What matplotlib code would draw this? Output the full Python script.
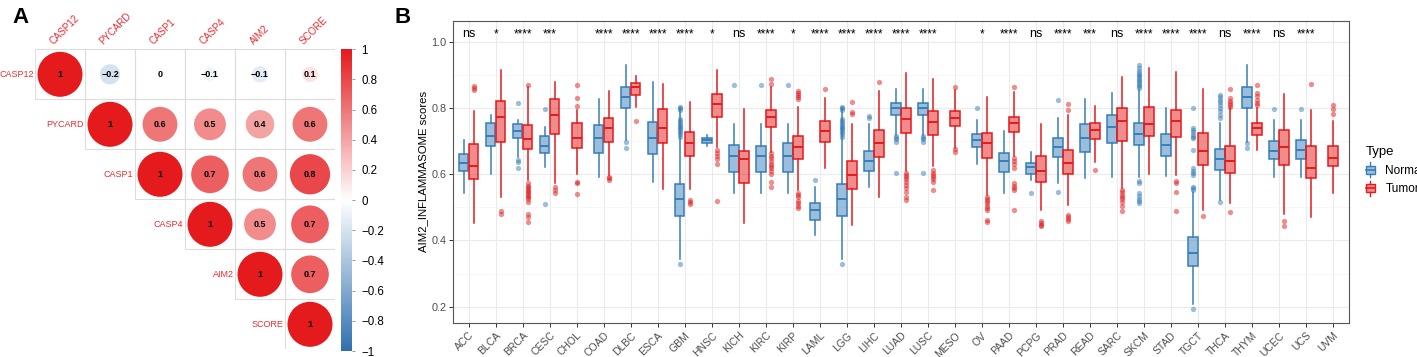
import numpy as np
import matplotlib
matplotlib.use("Agg")
import matplotlib.pyplot as plt
from matplotlib.colors import LinearSegmentedColormap, Normalize
from matplotlib.patches import Circle, Rectangle
from matplotlib.lines import Line2D
from matplotlib.legend_handler import HandlerBase
from matplotlib.cm import ScalarMappable
from matplotlib.transforms import ScaledTranslation

plt.rcParams['font.family'] = ['Liberation Sans', 'DejaVu Sans']

## panel A data
genes = ['CASP12', 'PYCARD', 'CASP1', 'CASP4', 'AIM2', 'SCORE']
corr = np.array([
    [1, -0.2, 0.0, -0.08, -0.13, 0.12],
    [-0.2, 1, 0.6, 0.5, 0.4, 0.6],
    [0.0, 0.6, 1, 0.7, 0.6, 0.8],
    [-0.08, 0.5, 0.7, 1, 0.5, 0.7],
    [-0.13, 0.4, 0.6, 0.5, 1, 0.7],
    [0.12, 0.6, 0.8, 0.7, 0.7, 1],
])

## panel B data
cats = ['ACC', 'BLCA', 'BRCA', 'CESC', 'CHOL', 'COAD', 'DLBC', 'ESCA', 'GBM', 'HNSC', 'KICH',
        'KIRC', 'KIRP', 'LAML', 'LGG', 'LIHC', 'LUAD', 'LUSC', 'MESO', 'OV', 'PAAD', 'PCPG',
        'PRAD', 'READ', 'SARC', 'SKCM', 'STAD', 'TGCT', 'THCA', 'THYM', 'UCEC', 'UCS', 'UVM']
signif = ['ns', '*', '****', '***', '', '****', '****', '****', '****', '*', 'ns',
          '****', '*', '****', '****', '****', '****', '****', '', '*', '****', 'ns',
          '****', '***', 'ns', '****', '****', '****', 'ns', '****', 'ns', '****', '']

# normal: (whislo, q1, med, q3, whishi), None = no normal samples
normal_box = [
    (0.544, 0.610, 0.634, 0.660, 0.703), (0.602, 0.685, 0.715, 0.755, 0.778),
    (0.653, 0.708, 0.730, 0.750, 0.763), (0.622, 0.665, 0.686, 0.716, 0.743),
    None, (0.592, 0.665, 0.710, 0.748, 0.827),
    (0.703, 0.799, 0.834, 0.862, 0.930), (0.577, 0.661, 0.710, 0.758, 0.877),
    (0.345, 0.474, 0.525, 0.569, 0.800), (0.686, 0.693, 0.703, 0.710, 0.718),
    (0.544, 0.607, 0.655, 0.688, 0.750), (0.544, 0.607, 0.655, 0.686, 0.750),
    (0.544, 0.607, 0.655, 0.695, 0.750), (0.416, 0.463, 0.491, 0.512, 0.562),
    (0.345, 0.474, 0.525, 0.569, 0.800), (0.562, 0.609, 0.640, 0.670, 0.751),
    (0.718, 0.778, 0.799, 0.814, 0.856), (0.718, 0.778, 0.799, 0.814, 0.856),
    None, (0.630, 0.681, 0.703, 0.720, 0.763),
    (0.544, 0.607, 0.639, 0.663, 0.730), (0.582, 0.600, 0.622, 0.634, 0.668),
    (0.574, 0.651, 0.683, 0.708, 0.768), (0.590, 0.666, 0.710, 0.750, 0.827),
    (0.592, 0.693, 0.743, 0.780, 0.846), (0.592, 0.688, 0.720, 0.753, 0.854),
    (0.595, 0.656, 0.688, 0.720, 0.799), (0.209, 0.323, 0.361, 0.411, 0.547),
    (0.522, 0.614, 0.646, 0.676, 0.755), (0.698, 0.799, 0.834, 0.862, 0.930),
    (0.592, 0.646, 0.671, 0.700, 0.763), (0.592, 0.646, 0.673, 0.702, 0.763),
    None,
]
normal_out = [
    [], [], [0.816, 0.642, 0.637, 0.620], [0.796, 0.509], [], [], [0.696, 0.678], [],
    [0.804, 0.799, 0.794, 0.765, 0.759, 0.754, 0.748, 0.743, 0.738, 0.733, 0.728, 0.72, 0.713, 0.33],
    [], [0.869], [0.869], [0.869], [0.582],
    [0.804, 0.799, 0.794, 0.765, 0.759, 0.754, 0.748, 0.743, 0.738, 0.733, 0.728, 0.72, 0.713, 0.33],
    [0.775, 0.768], [0.715, 0.71, 0.705, 0.698, 0.605], [0.715, 0.71, 0.705, 0.698, 0.605],
    [], [0.801], [], [0.544], [0.824, 0.547], [], [],
    [0.930, 0.92, 0.91, 0.905, 0.9, 0.895, 0.89, 0.885, 0.88, 0.875, 0.87, 0.865, 0.86,
     0.579, 0.574, 0.544, 0.535, 0.525, 0.52, 0.514],
    [], [0.192, 0.799, 0.738, 0.733, 0.728, 0.718, 0.713, 0.708, 0.673, 0.618, 0.61, 0.604,
         0.597, 0.562, 0.557, 0.552],
    [0.839, 0.832, 0.825, 0.818, 0.81, 0.8, 0.79, 0.78, 0.77, 0.517],
    [0.695, 0.678], [0.797], [0.797], [],
]
tumor_box = [
    (0.453, 0.584, 0.625, 0.690, 0.790), (0.532, 0.698, 0.772, 0.822, 0.914),
    (0.582, 0.676, 0.707, 0.748, 0.862), (0.574, 0.720, 0.778, 0.826, 0.879),
    (0.602, 0.680, 0.708, 0.753, 0.794), (0.597, 0.698, 0.739, 0.768, 0.851),
    (0.804, 0.839, 0.862, 0.874, 0.896), (0.554, 0.695, 0.738, 0.796, 0.872),
    (0.555, 0.655, 0.693, 0.728, 0.819), (0.683, 0.771, 0.811, 0.841, 0.914),
    (0.453, 0.572, 0.645, 0.670, 0.796), (0.668, 0.741, 0.771, 0.794, 0.864),
    (0.552, 0.646, 0.681, 0.715, 0.804), (0.619, 0.698, 0.731, 0.761, 0.829),
    (0.448, 0.554, 0.599, 0.640, 0.751), (0.530, 0.651, 0.693, 0.733, 0.852),
    (0.609, 0.723, 0.765, 0.801, 0.904), (0.624, 0.718, 0.758, 0.791, 0.887),
    (0.678, 0.746, 0.770, 0.791, 0.855), (0.537, 0.650, 0.693, 0.725, 0.834),
    (0.655, 0.726, 0.755, 0.773, 0.849), (0.493, 0.575, 0.609, 0.656, 0.750),
    (0.507, 0.602, 0.635, 0.673, 0.778), (0.637, 0.706, 0.733, 0.755, 0.806),
    (0.557, 0.701, 0.760, 0.801, 0.892), (0.602, 0.715, 0.751, 0.802, 0.919),
    (0.599, 0.713, 0.761, 0.794, 0.907), (0.491, 0.629, 0.671, 0.725, 0.856),
    (0.512, 0.604, 0.640, 0.685, 0.799), (0.673, 0.718, 0.740, 0.755, 0.801),
    (0.481, 0.629, 0.683, 0.733, 0.842), (0.471, 0.587, 0.619, 0.686, 0.794),
    (0.542, 0.624, 0.648, 0.685, 0.761),
]
tumor_out = [
    [0.866, 0.859, 0.854], [0.489, 0.481],
    [0.869, 0.572, 0.565, 0.56, 0.555, 0.55, 0.545, 0.54, 0.535, 0.53, 0.525, 0.517, 0.481, 0.471, 0.456],
    [0.562, 0.552, 0.542], [0.869, 0.829, 0.806, 0.577, 0.572, 0.540], [0.592, 0.587, 0.582],
    [0.760], [], [0.522, 0.517, 0.510], [0.673, 0.663, 0.655, 0.645, 0.632, 0.520], [],
    [0.887, 0.872, 0.663, 0.655, 0.648, 0.64, 0.632, 0.625, 0.618, 0.61, 0.602, 0.577, 0.562],
    [0.852, 0.845, 0.838, 0.832, 0.827, 0.544, 0.538, 0.53, 0.52, 0.512, 0.505, 0.499],
    [0.856], [0.819, 0.787, 0.783], [0.877],
    [0.604, 0.598, 0.592, 0.585, 0.575, 0.568, 0.558, 0.545, 0.532, 0.522],
    [0.612, 0.605, 0.598, 0.592, 0.585, 0.577, 0.552], [0.864, 0.675, 0.668],
    [0.532, 0.525, 0.518, 0.512, 0.505, 0.498, 0.491, 0.461, 0.456],
    [0.862, 0.650, 0.64, 0.63, 0.619, 0.572, 0.565, 0.558, 0.552, 0.493],
    [0.459, 0.452, 0.447, 0.443], [0.811, 0.794, 0.478, 0.47, 0.465, 0.459], [0.612],
    [0.552, 0.545, 0.538, 0.532, 0.525, 0.517, 0.504, 0.489], [], [0.579, 0.574, 0.545, 0.488],
    [0.473], [0.856, 0.829, 0.822, 0.815, 0.808, 0.804, 0.486],
    [0.869, 0.845, 0.835, 0.825, 0.815, 0.809], [0.459, 0.443], [0.871], [0.809, 0.796, 0.783],
]

BLUE = '#377EB8'
RED = '#E41A1C'

W, H = 1417, 357
fig = plt.figure(figsize=(W / 100, H / 100), dpi=100)

def fx(px):
    return px / W

def fy(py):
    return 1 - py / H

#-------------------------------------------------------------------------------
# panel A: corrplot
cmap = LinearSegmentedColormap.from_list('rdbu', ['#2F70B0', '#FFFFFF', '#E41A1C'])
norm = Normalize(-1, 1)
n = len(genes)
axA = fig.add_axes([fx(35), fy(349.3), fx(300), 300 / H])
axA.set_xlim(0, n)
axA.set_ylim(n, 0)
axA.axis('off')
lab_col = '#EE2A30'
for i in range(n):
    for j in range(i, n):
        axA.add_patch(Rectangle((j, i), 1, 1, fill=False, ec='#DDDDDD', lw=0.8))
        r = corr[i, j]
        rad = 0.45 * np.sqrt(abs(r))
        if rad > 0:
            axA.add_patch(Circle((j + 0.5, i + 0.5), rad, fc=cmap(norm(r)), ec='none'))
        txt = '%g' % round(r, 1)
        axA.text(j + 0.5, i + 0.5, txt.replace('-', '\u2212'), ha='center', va='center',
                 fontsize=6.5, fontweight='bold', color='black')
    axA.text(i - 0.03, i + 0.5, genes[i], ha='right', va='center', fontsize=6.5, color=lab_col,
             clip_on=False)
    axA.text(i + 0.4, -0.05, genes[i], ha='left', va='bottom', rotation=45,
             rotation_mode='anchor', fontsize=7, color=lab_col, clip_on=False)

cax = fig.add_axes([fx(340.7), fy(351), fx(11), 301.7 / H])
cb = fig.colorbar(ScalarMappable(norm=norm, cmap=cmap), cax=cax)
cb.outline.set_visible(False)
cb.set_ticks(np.linspace(-1, 1, 11))
cb.set_ticklabels([('%g' % round(t, 1)).replace('-', '\u2212') for t in np.linspace(-1, 1, 11)])
cax.tick_params(labelsize=8.3, length=2, width=0.6, color='#888888', pad=5)

fig.text(fx(12), fy(7), 'A', fontsize=16, fontweight='bold', va='top', ha='left')

#-------------------------------------------------------------------------------
# panel B: boxplots
axB = fig.add_axes([fx(452.7), fy(322.7), fx(896.3), 302 / H])
pos = np.arange(1, len(cats) + 1)

def mkstats(b, out):
    return dict(whislo=b[0], q1=b[1], med=b[2], q3=b[3], whishi=b[4], fliers=out)

def draw(stats, positions, widths, col):
    axB.bxp(stats, positions=positions, widths=widths, patch_artist=True, showcaps=False,
            boxprops=dict(facecolor=matplotlib.colors.to_rgba(col, 0.5), edgecolor=col, linewidth=1.1),
            medianprops=dict(color=col, linewidth=1.4),
            whiskerprops=dict(color=col, linewidth=1.1),
            flierprops=dict(marker='o', markerfacecolor=col, markeredgecolor='none',
                            markersize=3.8, alpha=0.5),
            manage_ticks=False, zorder=3)

hw = 0.185
n_stats, n_pos = [], []
t_stats, t_pos, t_w = [], [], []
for k in range(len(cats)):
    if normal_box[k] is None:
        t_stats.append(mkstats(tumor_box[k], tumor_out[k]))
        t_pos.append(pos[k])
        t_w.append(2 * hw * 0.98)
    else:
        n_stats.append(mkstats(normal_box[k], normal_out[k]))
        n_pos.append(pos[k] - hw)
        t_stats.append(mkstats(tumor_box[k], tumor_out[k]))
        t_pos.append(pos[k] + hw)
        t_w.append(hw * 1.9)
draw(n_stats, n_pos, hw * 1.9, BLUE)
draw(t_stats, t_pos, t_w, RED)

for k, s in enumerate(signif):
    if s:
        axB.text(pos[k], 1.014, s, ha='center', va='baseline', fontsize=9 if s == 'ns' else 8.5,
                 color='black')

axB.set_xlim(0.41, len(cats) + 0.59)
axB.set_ylim(0.152, 1.063)
axB.set_xticks(pos)
axB.set_xticklabels(cats, rotation=45, ha='right', va='top', rotation_mode='anchor')
shift = ScaledTranslation(3 / 100, 0, fig.dpi_scale_trans)
for lab in axB.get_xticklabels():
    lab.set_transform(lab.get_transform() + shift)
axB.set_yticks([0.2, 0.4, 0.6, 0.8, 1.0])
axB.set_yticklabels(['0.2', '0.4', '0.6', '0.8', '1.0'])
axB.set_yticks([0.3, 0.5, 0.7, 0.9], minor=True)
axB.tick_params(axis='both', which='major', labelsize=7.8, labelcolor='#4D4D4D',
                color='#333333', length=3, width=0.7, pad=1.5)
axB.tick_params(axis='x', which='major', pad=2.5, labelsize=7.5)
axB.tick_params(axis='y', which='minor', length=0)
axB.grid(True, which='major', color='#EBEBEB', lw=0.8, zorder=0)
axB.grid(True, which='minor', axis='y', color='#F4F4F4', lw=0.5, zorder=0)
axB.set_axisbelow(True)
for sp in axB.spines.values():
    sp.set_color('#555555')
    sp.set_linewidth(0.8)
axB.set_ylabel('AIM2_INFLAMMASOME scores', fontsize=8.2, labelpad=2.5)

fig.text(fx(395), fy(7), 'B', fontsize=16, fontweight='bold', va='top', ha='left')

# legend with boxplot glyphs
class BoxHandler(HandlerBase):
    def create_artists(self, legend, orig, xd, yd, width, height, fontsize, trans):
        ec = orig.get_edgecolor()
        fc = orig.get_facecolor()
        x0, y0 = -xd, -yd
        rect = Rectangle((x0, y0 + 0.15 * height), width, 0.7 * height, fc=fc, ec=ec, lw=1.0,
                         transform=trans)
        med = Line2D([x0, x0 + width], [y0 + 0.5 * height] * 2, color=ec, lw=1.2, transform=trans)
        w1 = Line2D([x0 + width / 2] * 2, [y0 - 0.15 * height, y0 + 0.15 * height], color=ec,
                    lw=1.0, transform=trans)
        w2 = Line2D([x0 + width / 2] * 2, [y0 + 0.85 * height, y0 + 1.15 * height], color=ec,
                    lw=1.0, transform=trans)
        return [rect, med, w1, w2]

hN = Rectangle((0, 0), 1, 1, fc=matplotlib.colors.to_rgba(BLUE, 0.5), ec=BLUE)
hT = Rectangle((0, 0), 1, 1, fc=matplotlib.colors.to_rgba(RED, 0.5), ec=RED)
leg = fig.legend([hN, hT], ['Normal', 'Tumor'], title='Type', loc='upper left',
                 bbox_to_anchor=(fx(1366), fy(146)), frameon=False, fontsize=8.5,
                 title_fontsize=9.5, handlelength=0.75, handleheight=1.1, handletextpad=0.9,
                 labelspacing=0.5, borderaxespad=0, borderpad=0,
                 handler_map={Rectangle: BoxHandler()})
leg._legend_box.align = 'left'

fig.savefig('out.png', dpi=100)
